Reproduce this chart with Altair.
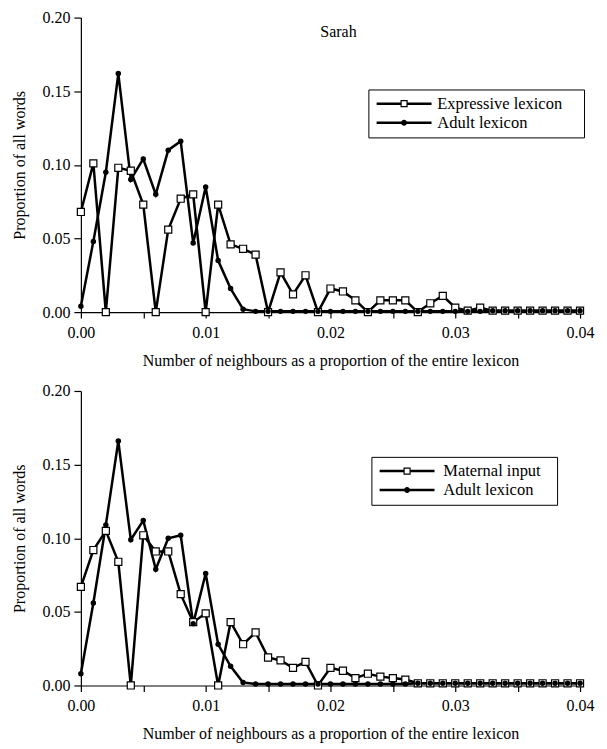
import altair as alt
import pandas as pd

# ---- data ----
x_values = [0.000, 0.001, 0.002, 0.003, 0.004, 0.005, 0.006, 0.007, 0.008, 0.009,
            0.010, 0.011, 0.012, 0.013, 0.014, 0.015, 0.016, 0.017, 0.018, 0.019,
            0.020, 0.021, 0.022, 0.023, 0.024, 0.025, 0.026, 0.027, 0.028, 0.029,
            0.030, 0.031, 0.032, 0.033, 0.034, 0.035, 0.036, 0.037, 0.038, 0.039,
            0.040]

expressive_lexicon = [0.068, 0.101, 0.000, 0.098, 0.096, 0.073, 0.000, 0.056, 0.077, 0.080,
                      0.000, 0.073, 0.046, 0.043, 0.039, 0.000, 0.027, 0.012, 0.025, 0.000,
                      0.016, 0.014, 0.008, 0.000, 0.008, 0.008, 0.008, 0.000, 0.006, 0.011,
                      0.003, 0.001, 0.003, 0.001, 0.001, 0.001, 0.001, 0.001, 0.001, 0.001,
                      0.001]
adult_lexicon_top = [0.004, 0.048, 0.095, 0.162, 0.090, 0.104, 0.080, 0.110, 0.116, 0.047,
                     0.085, 0.035, 0.016, 0.002, 0.0005, 0.0005, 0.0005, 0.0005, 0.0005, 0.0005,
                     0.0005, 0.0005, 0.0005, 0.0005, 0.0005, 0.0005, 0.0005, 0.0005, 0.0005, 0.0005,
                     0.0005, 0.0005, 0.0005, 0.001, 0.001, 0.001, 0.001, 0.001, 0.001, 0.001,
                     0.001]

maternal_input = [0.067, 0.092, 0.105, 0.084, 0.000, 0.102, 0.091, 0.091, 0.062, 0.043,
                  0.049, 0.000, 0.043, 0.028, 0.036, 0.019, 0.017, 0.012, 0.016, 0.000,
                  0.012, 0.010, 0.005, 0.008, 0.006, 0.005, 0.004, 0.0015, 0.0015, 0.0015,
                  0.0015, 0.0015, 0.0015, 0.0015, 0.0015, 0.0015, 0.0015, 0.0015, 0.0015, 0.0015,
                  0.0015]
adult_lexicon_bottom = [0.008, 0.056, 0.109, 0.166, 0.099, 0.112, 0.079, 0.100, 0.102, 0.042,
                        0.076, 0.028, 0.013, 0.002, 0.001, 0.001, 0.001, 0.001, 0.001, 0.001,
                        0.001, 0.001, 0.001, 0.001, 0.001, 0.001, 0.001, 0.0015, 0.0015, 0.0015,
                        0.0015, 0.0015, 0.0015, 0.0015, 0.0015, 0.0015, 0.0015, 0.0015, 0.0015, 0.0015,
                        0.0015]

top_names = ["Expressive lexicon", "Adult lexicon"]
bottom_names = ["Maternal input", "Adult lexicon"]
panel_title = "Sarah"
x_title = "Number of neighbours as a proportion of the entire lexicon"
y_title = "Proportion of all words"
x_ticks = [0.0, 0.005, 0.01, 0.015, 0.02, 0.025, 0.03, 0.035, 0.04]
y_ticks = [0.0, 0.05, 0.10, 0.15, 0.20]

FONT = "Liberation Serif"

# legend symbols: line with open square / line with filled dot (unit = 6 px)
PATH_SQ = ("M-4.583,-0.21H-0.6V0.21H-4.583Z M0.6,-0.21H4.583V0.21H0.6Z "
           "M-0.6,-0.6H0.6V0.6H-0.6Z M-0.4,-0.4V0.4H0.4V-0.4Z")
PATH_CI = ("M-4.583,-0.21H4.583V0.21H-4.583Z "
           "M0.5,0A0.5,0.5 0 1,1 -0.5,0A0.5,0.5 0 1,1 0.5,0Z")


def make_df(first, second, names):
    return pd.DataFrame({
        "x": x_values * 2,
        "y": first + second,
        "series": [names[0]] * len(x_values) + [names[1]] * len(x_values),
    })


def panel(df, names, leg_x, leg_y, reach, label_offset, with_title):
    xenc = alt.X("x:Q", scale=alt.Scale(domain=[0, 0.04], nice=False, zero=False),
                 axis=alt.Axis(values=x_ticks, title=x_title,
                               labelExpr="(round(datum.value*1000) % 10 == 0) ? format(datum.value, '.2f') : ''",
                               labelFlush=False, tickSize=6, labelPadding=6,
                               titlePadding=12, grid=False))
    yenc = alt.Y("y:Q", scale=alt.Scale(domain=[0, 0.2], nice=False),
                 axis=alt.Axis(values=y_ticks, format=".2f", title=y_title,
                               labelFlush=False, tickSize=7, labelPadding=4,
                               titlePadding=14, grid=False))
    base = alt.Chart(df).encode(x=xenc, y=yenc)
    line = base.mark_line(color="black", strokeWidth=2.5).encode(detail="series:N")
    squares = base.transform_filter(alt.datum.series == names[0]).mark_point(
        shape="square", size=50, filled=True, fill="white", stroke="black",
        strokeWidth=1.2, opacity=1)
    dots = base.transform_filter(alt.datum.series == names[1]).mark_circle(
        size=30, color="black", opacity=1)
    # a sub-pixel speck far right of each symbol only widens the legend frame
    ext = " M%.2f,-0.005H%.3fV0.005H%.2fZ" % (reach, reach + 0.005, reach)
    legend_layer = base.transform_filter("false").mark_point(filled=True, color="black").encode(
        shape=alt.Shape("series:N",
                        scale=alt.Scale(domain=names, range=[PATH_SQ + ext, PATH_CI + ext]),
                        legend=alt.Legend(
                            title=None,
                            orient="none", legendX=leg_x, legendY=leg_y,
                            direction="vertical",
                            strokeColor="black", fillColor="white", padding=6,
                            symbolSize=144, symbolOffset=21.5, labelOffset=label_offset,
                            symbolFillColor="black", symbolStrokeColor="black",
                            symbolStrokeWidth=0, symbolOpacity=1,
                            labelFont=FONT, labelFontSize=16.5, labelColor="black",
                            labelLimit=400, rowPadding=2)))
    layers = [line, squares, dots, legend_layer]
    if with_title:
        title_df = pd.DataFrame({"t": [panel_title]})
        title_text = alt.Chart(title_df).mark_text(
            font=FONT, fontSize=16, color="black").encode(
            text="t:N", x=alt.value(258), y=alt.value(14))
        layers.append(title_text)
    return alt.layer(*layers).properties(width=500, height=295)


top = panel(make_df(expressive_lexicon, adult_lexicon_top, top_names), top_names,
            288, 72, 29.0, 25, True)
bottom = panel(make_df(maternal_input, adult_lexicon_bottom, bottom_names), bottom_names,
               291, 66, 23.9, 28, False)

chart = alt.vconcat(top, bottom, spacing=15).resolve_scale(
    shape="independent").resolve_legend(shape="independent").properties(
    padding={"left": 4, "top": 1, "right": 5, "bottom": 2}
).configure_view(stroke=None).configure_axis(
    labelFont=FONT, labelFontSize=16, labelColor="black",
    titleFont=FONT, titleFontSize=16, titleFontWeight="normal", titleColor="black",
    domainColor="black", domainWidth=1.2, tickColor="black", tickWidth=1.2,
)

chart.save("out.html", embed_options={"renderer": "svg", "actions": False})
